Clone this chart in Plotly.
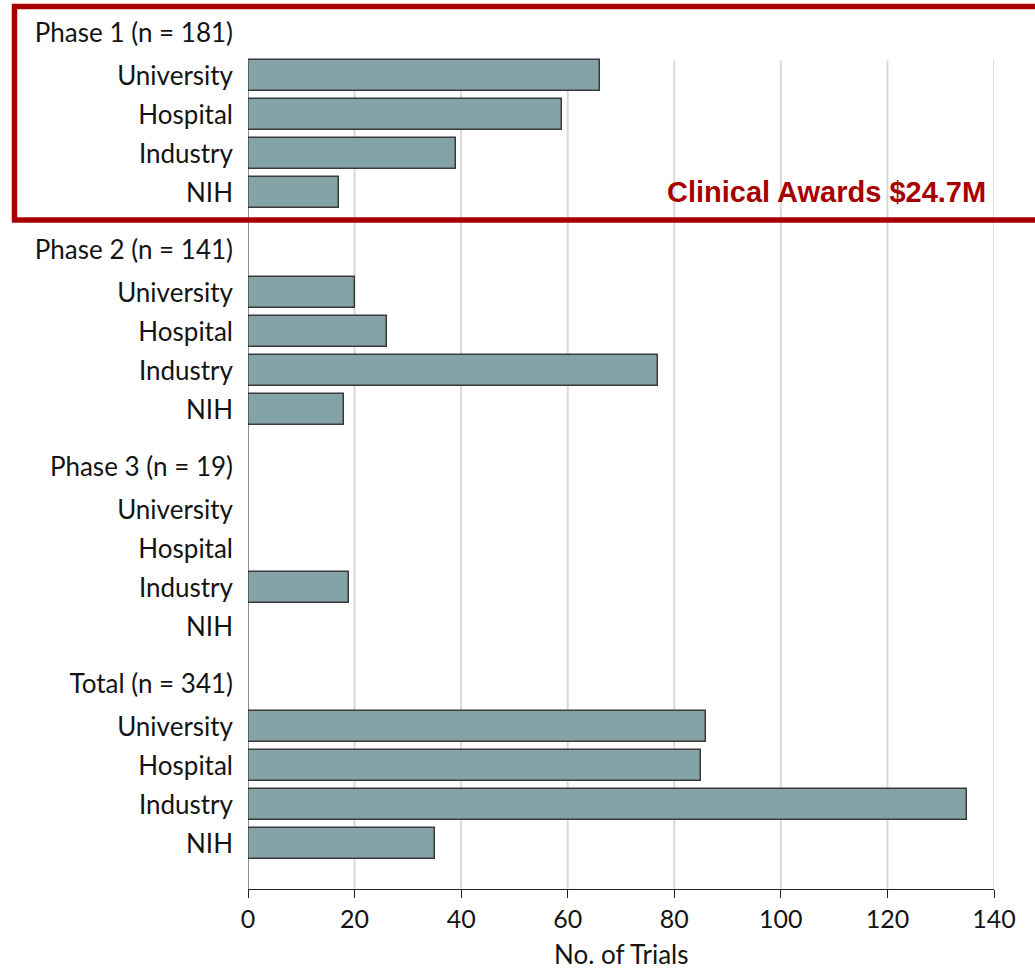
import plotly.graph_objects as go

# ---- data ----
groups = ["Phase 1 (n = 181)", "Phase 2 (n = 141)", "Phase 3 (n = 19)", "Total (n = 341)"]
sponsors = ["University", "Hospital", "Industry", "NIH"]
phase1 = [66, 59, 39, 17]
phase2 = [20, 26, 77, 18]
phase3 = [0, 0, 19, 0]
total = [86, 85, 135, 35]
series = [phase1, phase2, phase3, total]
x_ticks = [0, 20, 40, 60, 80, 100, 120, 140]
x_title = "No. of Trials"
callout = "Clinical Awards $24.7M"

# ---- layout of rows (in row units) ----
HEAD_OFF = 1.11
GAP = 1.46
PERIOD = 3 + HEAD_OFF + GAP
BAR_W = 0.785

tickvals, ticktext = [], []
bar_y, bar_x = [], []
for gi, (g, vals) in enumerate(zip(groups, series)):
    base = gi * PERIOD
    tickvals.append(base)
    ticktext.append(g)
    for si, (s, v) in enumerate(zip(sponsors, vals)):
        pos = base + HEAD_OFF + si
        tickvals.append(pos)
        ticktext.append(s)
        bar_y.append(pos)
        bar_x.append(v if v != 0 else None)

y_top = -0.578
y_bottom = tickvals[-1] + 1.165
grid_top = HEAD_OFF - BAR_W / 2

W, H = 1035, 970
ML, MR, MT, MB = 248, 41, 10, 81
PW = W - ML - MR
PH = H - MT - MB


def px_x(p):
    return (p - ML) / PW


def px_y(p):
    return (H - MB - p) / PH


font_main = "Lato, 'Noto Sans', sans-serif"
txt = "#141414"

fig = go.Figure()
fig.add_trace(go.Bar(
    x=bar_x, y=bar_y, orientation="h", width=BAR_W,
    marker=dict(color="#84a3a6", line=dict(color="#3a3a3a", width=1.5)),
    hoverinfo="x+y", showlegend=False,
))

shapes = []
for v in x_ticks[1:]:
    shapes.append(dict(type="line", xref="x", yref="y", x0=v, x1=v,
                       y0=grid_top, y1=y_bottom, layer="below",
                       line=dict(color="#d9d9d9", width=2)))
shapes.append(dict(type="line", xref="x", yref="y", x0=0, x1=0,
                   y0=grid_top, y1=y_bottom, layer="above",
                   line=dict(color="#222222", width=1)))
# red callout box
shapes.append(dict(type="rect", xref="paper", yref="paper",
                   x0=px_x(14.5), x1=px_x(1045), y0=px_y(220), y1=px_y(6.5),
                   line=dict(color="#a80000", width=5.5), layer="above"))

fig.update_layout(
    width=W, height=H,
    margin=dict(l=ML, r=MR, t=MT, b=MB, autoexpand=False),
    paper_bgcolor="white", plot_bgcolor="white",
    bargap=0,
    shapes=shapes,
    annotations=[
        dict(
            text=callout, xref="paper", yref="paper",
            x=px_x(988), y=px_y(192), xanchor="right", yanchor="middle",
            showarrow=False,
            font=dict(family="Arial, 'Liberation Sans', sans-serif", size=29,
                      color="#a80000", weight="bold"),
        ),
        dict(
            text=x_title, xref="paper", yref="paper",
            x=0.5, y=px_y(954), xanchor="center", yanchor="middle",
            showarrow=False, borderpad=0,
            font=dict(family=font_main, size=26, color=txt),
        ),
    ],
    xaxis=dict(
        range=[0, 140], tickvals=x_ticks, ticktext=[str(t) for t in x_ticks],
        showgrid=False, zeroline=False, automargin=False,
        showline=True, linecolor="#222222", linewidth=1,
        ticks="outside", ticklen=8, tickcolor="#222222", tickwidth=1,
        tickfont=dict(family=font_main, size=25, color=txt),
    ),
    yaxis=dict(
        range=[y_bottom, y_top], tickvals=tickvals, ticktext=ticktext,
        showgrid=False, zeroline=False, showline=False, automargin=False,
        ticks="", ticklabelstandoff=14,
        tickfont=dict(family=font_main, size=26, color=txt),
    ),
)

fig.write_html(
    "out.html",
    config={"displayModeBar": False},
    post_script="document.body.style.margin='0px';document.body.style.overflow='hidden';",
)
